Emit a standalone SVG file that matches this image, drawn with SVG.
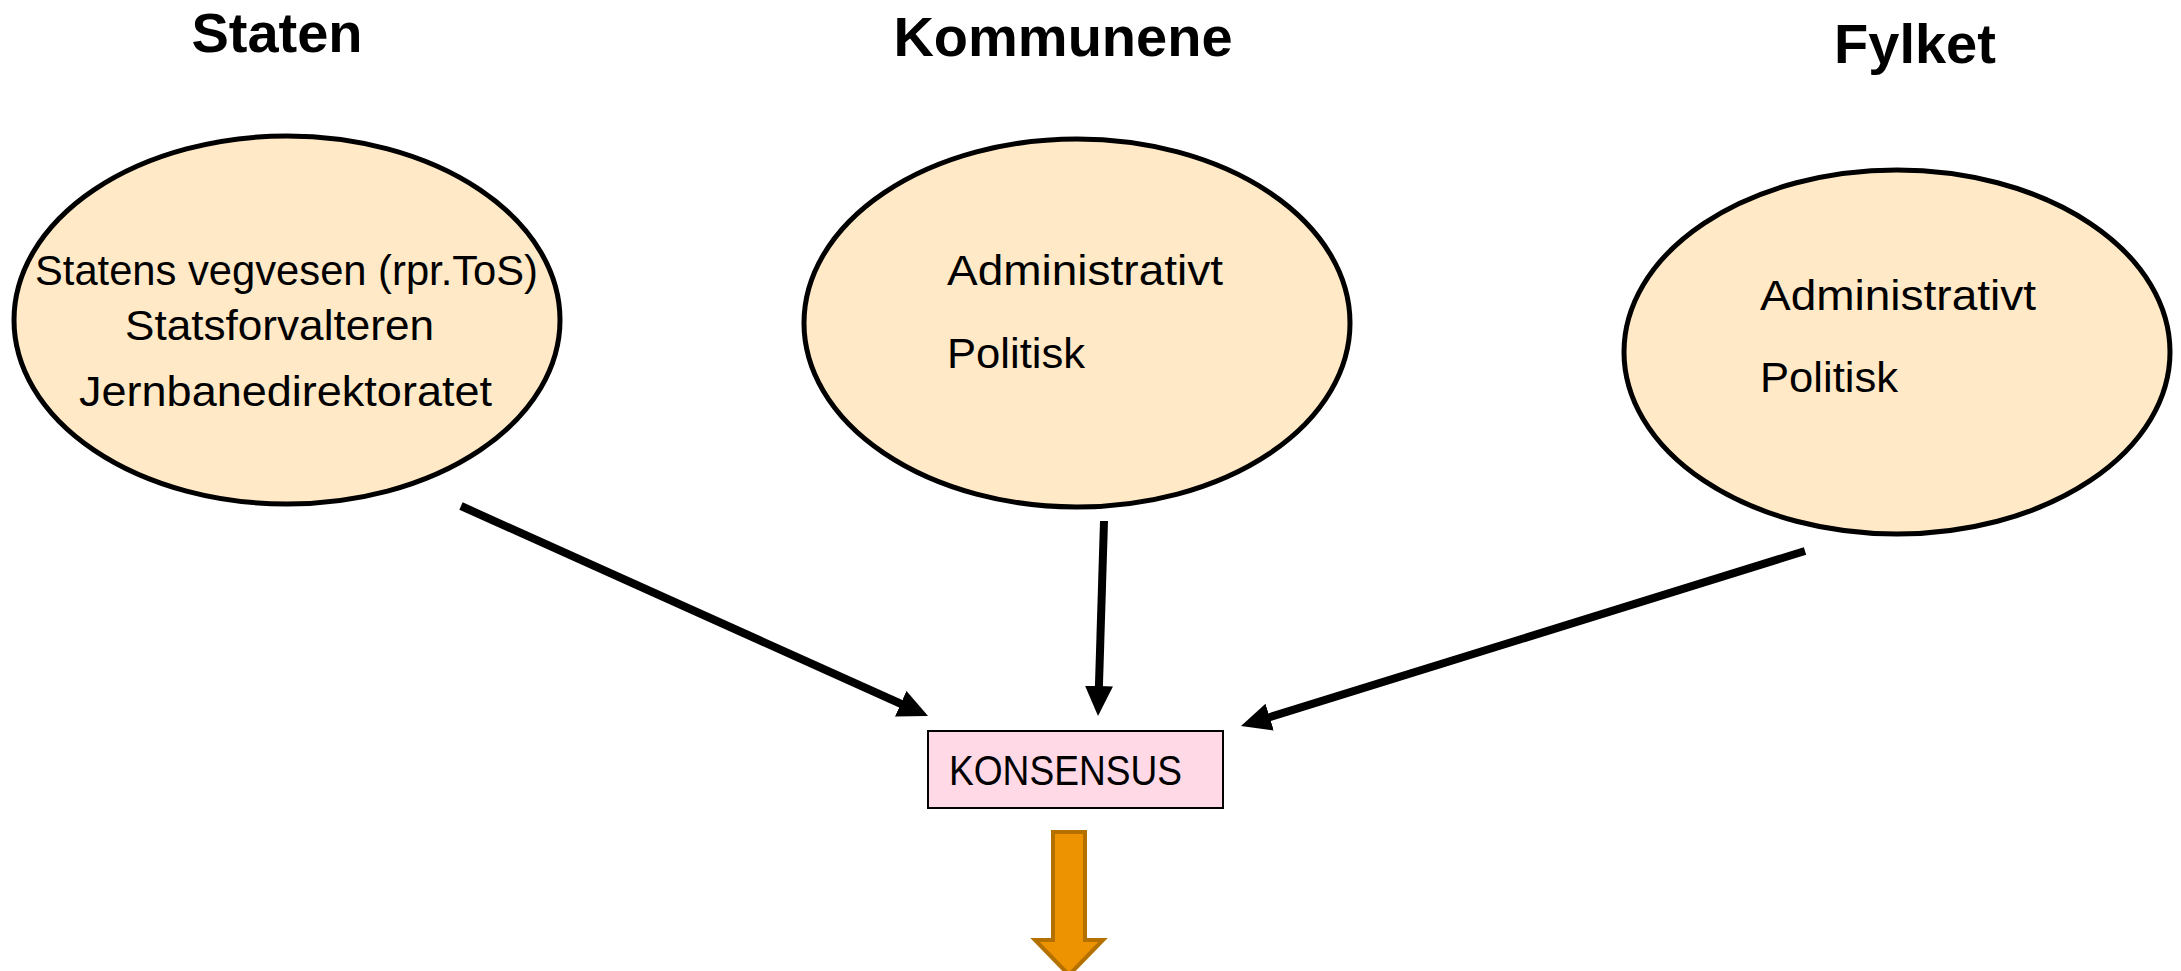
<svg xmlns="http://www.w3.org/2000/svg" width="2181" height="971" viewBox="0 0 2181 971">
  <style>
    .title { font-family: "Liberation Sans", Arial, sans-serif; font-weight: bold; font-size: 56px; fill: #000; text-anchor: middle; }
    .body { font-family: "Liberation Sans", Arial, sans-serif; font-size: 43px; fill: #000; }
    .oval { fill: #FFE9C6; stroke: #000; stroke-width: 5; }
    .conn { stroke: #000; stroke-width: 8; fill: none; marker-end: url(#ah); }
  </style>
  <defs>
    <marker id="ah" viewBox="0 0 30 28" markerWidth="30" markerHeight="28" refX="8" refY="14" orient="auto" markerUnits="userSpaceOnUse">
      <path d="M0,0 L30,14 L0,28 z" fill="#000"/>
    </marker>
  </defs>
  <rect width="2181" height="971" fill="#fff"/>

  <g id="title-staten"><text class="title" x="277" y="52">Staten</text></g>
  <g id="title-kommunene"><text class="title" x="1063" y="56">Kommunene</text></g>
  <g id="title-fylket"><text class="title" x="1915" y="63">Fylket</text></g>

  <g id="staten">
    <ellipse class="oval" cx="287" cy="320" rx="273" ry="184"/>
    <text class="body" x="35" y="285" textLength="503" lengthAdjust="spacingAndGlyphs">Statens vegvesen (rpr.ToS)</text>
    <text class="body" x="125" y="340" textLength="309" lengthAdjust="spacingAndGlyphs">Statsforvalteren</text>
    <text class="body" x="79" y="406" textLength="413" lengthAdjust="spacingAndGlyphs">Jernbanedirektoratet</text>
  </g>

  <g id="kommunene">
    <ellipse class="oval" cx="1077" cy="323" rx="273" ry="184"/>
    <text class="body" x="947" y="285" textLength="276" lengthAdjust="spacingAndGlyphs">Administrativt</text>
    <text class="body" x="947" y="368" textLength="138" lengthAdjust="spacingAndGlyphs">Politisk</text>
  </g>

  <g id="fylket">
    <ellipse class="oval" cx="1897" cy="352" rx="273" ry="182"/>
    <text class="body" x="1760" y="310" textLength="276" lengthAdjust="spacingAndGlyphs">Administrativt</text>
    <text class="body" x="1760" y="392" textLength="138" lengthAdjust="spacingAndGlyphs">Politisk</text>
  </g>

  <g id="konsensus">
    <rect x="928" y="731" width="295" height="77" fill="#FFD9E6" stroke="#000" stroke-width="2"/>
    <text class="body" x="949" y="785" textLength="233" lengthAdjust="spacingAndGlyphs">KONSENSUS</text>
  </g>

  <g id="connectors">
    <line class="conn" x1="461" y1="506" x2="908" y2="707"/>
    <line class="conn" x1="1104" y1="521" x2="1098.7" y2="694"/>
    <line class="conn" x1="1805" y1="551" x2="1262" y2="719.5"/>
    <path id="orange-arrow" d="M1053,832 L1085,832 L1085,940 L1103,940 L1069,975 L1035,940 L1053,940 Z" fill="#ED9200" stroke="#B57100" stroke-width="4" stroke-linejoin="miter"/>
  </g>
</svg>
